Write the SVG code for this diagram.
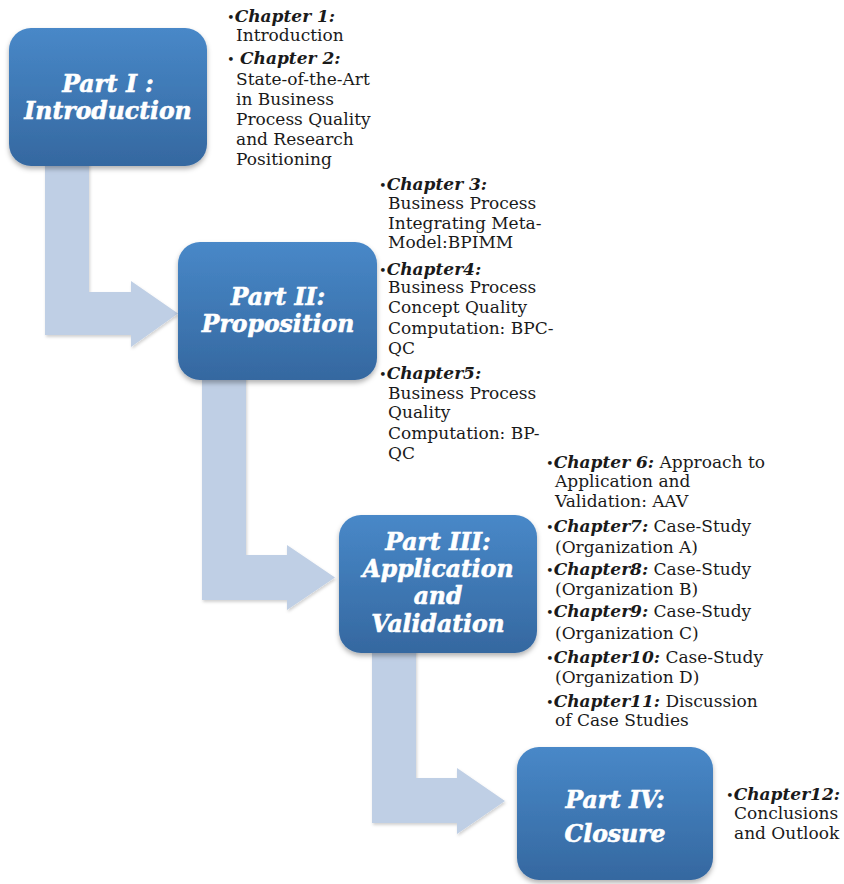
<svg xmlns="http://www.w3.org/2000/svg" width="844" height="884" viewBox="0 0 844 884">
  <style>
    .part { font-family: "DejaVu Serif", serif; font-weight: bold; font-style: italic; font-size: 23.5px; fill: #ffffff; stroke: #ffffff; stroke-width: 0.6; text-anchor: middle; }
    .body { font-family: "DejaVu Serif", "Liberation Serif", serif; font-size: 17px; fill: #1a1a1a; }
    .ch { font-weight: bold; font-style: italic; }
    .dot { font-size: 13px; }
    .flow { fill: #bfcfe5; }
  </style>
  <defs>
    <linearGradient id="boxFill" x1="0" y1="0" x2="0" y2="1">
      <stop offset="0" stop-color="#4888c8"/>
      <stop offset="1" stop-color="#3568a0"/>
    </linearGradient>
    <filter id="shadow" x="-10%" y="-10%" width="130%" height="130%">
      <feDropShadow dx="0" dy="3" stdDeviation="2.5" flood-color="#000000" flood-opacity="0.3"/>
    </filter>
    <filter id="softShadow" x="-10%" y="-10%" width="130%" height="130%">
      <feDropShadow dx="1" dy="2" stdDeviation="1.5" flood-color="#000000" flood-opacity="0.18"/>
    </filter>
  </defs>

  <!-- bent arrows between parts -->
  <g id="connectors" class="flow" filter="url(#softShadow)">
    <path d="M45,160 H89 V292 H131 V281 L178,313.5 L131,347 V335 H45 Z"/>
    <path d="M202,375 H246 V555 H287 V545 L335,577.5 L287,610 V600 H202 Z"/>
    <path d="M372,648 H416 V778 H457 V768 L505,801 L457,834 V823 H372 Z"/>
  </g>

  <!-- Part I -->
  <g id="part1">
    <rect x="9" y="28" width="198" height="138" rx="22" fill="url(#boxFill)" filter="url(#shadow)"/>
    <text class="part" x="108" y="92">Part I :</text>
    <text class="part" x="108" y="119">Introduction</text>
  </g>
  <g id="part1-chapters" class="body">
    <text x="227" y="22"><tspan class="dot">•</tspan><tspan class="ch">Chapter 1:</tspan></text>
    <text x="236" y="41">Introduction</text>
    <text x="227" y="64"><tspan class="dot">•</tspan> <tspan class="ch">Chapter 2:</tspan></text>
    <text x="236" y="85">State-of-the-Art</text>
    <text x="236" y="105">in Business</text>
    <text x="236" y="125">Process Quality</text>
    <text x="236" y="145">and Research</text>
    <text x="236" y="165">Positioning</text>
  </g>

  <!-- Part II -->
  <g id="part2">
    <rect x="178" y="242" width="199" height="138" rx="22" fill="url(#boxFill)" filter="url(#shadow)"/>
    <text class="part" x="278" y="305">Part II:</text>
    <text class="part" x="278" y="332">Proposition</text>
  </g>
  <g id="part2-chapters" class="body">
    <text x="379" y="190"><tspan class="dot">•</tspan><tspan class="ch">Chapter 3:</tspan></text>
    <text x="388" y="209">Business Process</text>
    <text x="388" y="229">Integrating Meta-</text>
    <text x="388" y="248">Model:BPIMM</text>
    <text x="379" y="275"><tspan class="dot">•</tspan><tspan class="ch">Chapter4:</tspan></text>
    <text x="388" y="293">Business Process</text>
    <text x="388" y="313">Concept Quality</text>
    <text x="388" y="334">Computation: BPC-</text>
    <text x="388" y="354">QC</text>
    <text x="379" y="379"><tspan class="dot">•</tspan><tspan class="ch">Chapter5:</tspan></text>
    <text x="388" y="399">Business Process</text>
    <text x="388" y="418">Quality</text>
    <text x="388" y="439">Computation: BP-</text>
    <text x="388" y="459">QC</text>
  </g>

  <!-- Part III -->
  <g id="part3">
    <rect x="339" y="515" width="198" height="138" rx="22" fill="url(#boxFill)" filter="url(#shadow)"/>
    <text class="part" x="438" y="550">Part III:</text>
    <text class="part" x="438" y="577">Application</text>
    <text class="part" x="438" y="604">and</text>
    <text class="part" x="438" y="632">Validation</text>
  </g>
  <g id="part3-chapters" class="body">
    <text x="546" y="468"><tspan class="dot">•</tspan><tspan class="ch">Chapter 6:</tspan> Approach to</text>
    <text x="555" y="487">Application and</text>
    <text x="555" y="507">Validation: AAV</text>
    <text x="546" y="532"><tspan class="dot">•</tspan><tspan class="ch">Chapter7:</tspan> Case-Study</text>
    <text x="555" y="553">(Organization A)</text>
    <text x="546" y="575"><tspan class="dot">•</tspan><tspan class="ch">Chapter8:</tspan> Case-Study</text>
    <text x="555" y="595">(Organization B)</text>
    <text x="546" y="617"><tspan class="dot">•</tspan><tspan class="ch">Chapter9:</tspan> Case-Study</text>
    <text x="555" y="639">(Organization C)</text>
    <text x="546" y="663"><tspan class="dot">•</tspan><tspan class="ch">Chapter10:</tspan> Case-Study</text>
    <text x="555" y="683">(Organization D)</text>
    <text x="546" y="707"><tspan class="dot">•</tspan><tspan class="ch">Chapter11:</tspan> Discussion</text>
    <text x="555" y="726">of Case Studies</text>
  </g>

  <!-- Part IV -->
  <g id="part4">
    <rect x="517" y="747" width="196" height="133" rx="22" fill="url(#boxFill)" filter="url(#shadow)"/>
    <text class="part" x="615" y="808">Part IV:</text>
    <text class="part" x="615" y="842">Closure</text>
  </g>
  <g id="part4-chapters" class="body">
    <text x="726" y="800"><tspan class="dot">•</tspan><tspan class="ch">Chapter12:</tspan></text>
    <text x="734" y="819">Conclusions</text>
    <text x="734" y="839">and Outlook</text>
  </g>
</svg>
